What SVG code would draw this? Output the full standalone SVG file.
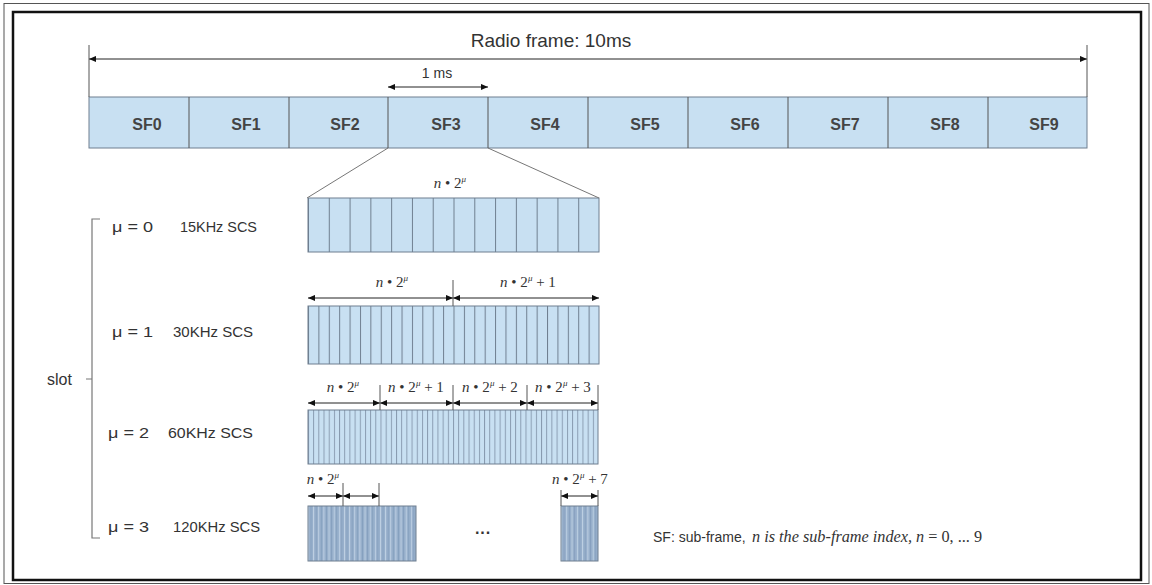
<svg xmlns="http://www.w3.org/2000/svg" width="1152" height="585" viewBox="0 0 1152 585">
<style>
.t{font-family:"Liberation Sans",Arial,sans-serif;fill:#333}
.sf{font-size:16px;font-weight:bold;text-anchor:middle;fill:#444}
.m{font-family:"Liberation Serif","DejaVu Serif",serif;font-size:15px;fill:#333;text-anchor:middle}
.lab{font-size:14px}
.dim{stroke:#222;stroke-width:1;fill:none}
.tick{stroke:#555;stroke-width:1}
.box{stroke:#6f7f90;stroke-width:1}
</style>
<defs>
<marker id="ah" viewBox="0 0 8 8" refX="8" refY="4" markerWidth="7" markerHeight="7" markerUnits="userSpaceOnUse" orient="auto-start-reverse">
<path d="M0,0.5 L8,4 L0,7.5 z" fill="#111"/>
</marker>
<pattern id="p0" x="308" y="0" width="20.786" height="20" patternUnits="userSpaceOnUse"><rect width="20.786" height="20" fill="#c8e0f2"/><line x1="0.5" y1="0" x2="0.5" y2="20" stroke="#6f7f90" stroke-width="1"/></pattern>
<pattern id="p1" x="308" y="0" width="10.393" height="20" patternUnits="userSpaceOnUse"><rect width="10.393" height="20" fill="#c8e0f2"/><line x1="0.5" y1="0" x2="0.5" y2="20" stroke="#6f7f90" stroke-width="1"/></pattern>
<pattern id="p2" x="308" y="0" width="5.179" height="20" patternUnits="userSpaceOnUse"><rect width="5.179" height="20" fill="#c8e0f2"/><line x1="0.5" y1="0" x2="0.5" y2="20" stroke="#8396ab" stroke-width="0.9"/></pattern>
<pattern id="p3" x="308" y="0" width="5.143" height="20" patternUnits="userSpaceOnUse"><rect width="5.143" height="20" fill="#97afcb"/><line x1="0.5" y1="0" x2="0.5" y2="20" stroke="#c3d4e6" stroke-width="0.9"/><line x1="3" y1="0" x2="3" y2="20" stroke="#7f99b9" stroke-width="0.7"/></pattern>
<pattern id="p3b" x="561" y="0" width="5.286" height="20" patternUnits="userSpaceOnUse"><rect width="5.286" height="20" fill="#97afcb"/><line x1="0.5" y1="0" x2="0.5" y2="20" stroke="#c3d4e6" stroke-width="0.9"/><line x1="3" y1="0" x2="3" y2="20" stroke="#7f99b9" stroke-width="0.7"/></pattern>
</defs>
<rect x="0" y="0" width="1152" height="585" fill="#fff"/>
<rect x="4" y="3.5" width="1145" height="580" fill="none" stroke="#555" stroke-width="1"/>
<rect x="13" y="12" width="1128" height="568" fill="none" stroke="#111" stroke-width="2.5"/>

<g id="radio-frame">
<text class="t" x="551" y="47" font-size="19" text-anchor="middle">Radio frame: 10ms</text>
<g id="subframes">
<rect x="89" y="97" width="998" height="51" fill="#c8e0f2" stroke="#6f7f90"/>
<path class="tick" d="M189,97V148M289,97V148M388,97V148M488,97V148M588,97V148M688,97V148M788,97V148M888,97V148M988,97V148" stroke="#6f7f90"/>
<text class="t sf" x="147" y="130">SF0</text>
<text class="t sf" x="246" y="130">SF1</text>
<text class="t sf" x="345" y="130">SF2</text>
<text class="t sf" x="446" y="130">SF3</text>
<text class="t sf" x="545" y="130">SF4</text>
<text class="t sf" x="645" y="130">SF5</text>
<text class="t sf" x="745" y="130">SF6</text>
<text class="t sf" x="845" y="130">SF7</text>
<text class="t sf" x="945" y="130">SF8</text>
<text class="t sf" x="1044" y="130">SF9</text>
</g>
<text class="t" x="437" y="78" font-size="14" text-anchor="middle">1 ms</text>
</g>

<g id="mu0">
<text class="t lab" x="112" y="232" textLength="41" lengthAdjust="spacingAndGlyphs">μ = 0</text>
<text class="t lab" x="180" y="232" textLength="77" lengthAdjust="spacingAndGlyphs">15KHz SCS</text>
<rect x="308" y="198" width="291" height="54" fill="url(#p0)" class="box"/>
<text class="m" x="450" y="188"><tspan font-style="italic">n</tspan> • 2<tspan dy="-6" font-size="9" font-style="italic">μ</tspan></text>
</g>

<g id="mu1">
<text class="t lab" x="112" y="337" textLength="41" lengthAdjust="spacingAndGlyphs">μ = 1</text>
<text class="t lab" x="173" y="337" textLength="80" lengthAdjust="spacingAndGlyphs">30KHz SCS</text>
<rect x="308" y="306" width="291" height="58" fill="url(#p1)" class="box"/>
<text class="m" x="392" y="287"><tspan font-style="italic">n</tspan> • 2<tspan dy="-6" font-size="9" font-style="italic">μ</tspan></text>
<text class="m" x="528" y="287"><tspan font-style="italic">n</tspan> • 2<tspan dy="-6" font-size="9" font-style="italic">μ</tspan><tspan dy="6"> + 1</tspan></text>
</g>

<g id="mu2">
<text class="t lab" x="108" y="438" textLength="41" lengthAdjust="spacingAndGlyphs">μ = 2</text>
<text class="t lab" x="168" y="438" textLength="85" lengthAdjust="spacingAndGlyphs">60KHz SCS</text>
<rect x="308" y="410" width="290" height="54" fill="url(#p2)" class="box"/>
<text class="m" x="343" y="392"><tspan font-style="italic">n</tspan> • 2<tspan dy="-6" font-size="9" font-style="italic">μ</tspan></text>
<text class="m" x="416" y="392"><tspan font-style="italic">n</tspan> • 2<tspan dy="-6" font-size="9" font-style="italic">μ</tspan><tspan dy="6"> + 1</tspan></text>
<text class="m" x="490" y="392"><tspan font-style="italic">n</tspan> • 2<tspan dy="-6" font-size="9" font-style="italic">μ</tspan><tspan dy="6"> + 2</tspan></text>
<text class="m" x="563" y="392"><tspan font-style="italic">n</tspan> • 2<tspan dy="-6" font-size="9" font-style="italic">μ</tspan><tspan dy="6"> + 3</tspan></text>
</g>

<g id="mu3">
<text class="t lab" x="108" y="532" textLength="41" lengthAdjust="spacingAndGlyphs">μ = 3</text>
<text class="t lab" x="173" y="532" textLength="87" lengthAdjust="spacingAndGlyphs">120KHz SCS</text>
<rect x="308" y="506" width="108" height="55" fill="url(#p3)" class="box"/>
<rect x="561" y="506" width="37" height="55" fill="url(#p3b)" class="box"/>
<text class="m" x="323" y="484"><tspan font-style="italic">n</tspan> • 2<tspan dy="-6" font-size="9" font-style="italic">μ</tspan></text>
<text class="m" x="580" y="484"><tspan font-style="italic">n</tspan> • 2<tspan dy="-6" font-size="9" font-style="italic">μ</tspan><tspan dy="6"> + 7</tspan></text>
<text class="t" x="483" y="538" font-size="16" font-weight="bold" text-anchor="middle">···</text>
</g>

<g id="slot">
<path d="M100,219H92V538H100M92,379H86" fill="none" stroke="#777" stroke-width="1.2"/>
<text class="t" x="47" y="385" font-size="16">slot</text>
</g>

<g id="legend">
<text class="t" x="653" y="542" font-size="14">SF: sub-frame,</text>
<text x="752" y="542" font-family="'Liberation Serif',serif" font-size="16" fill="#333" textLength="230" lengthAdjust="spacingAndGlyphs"><tspan font-style="italic">n is the sub-frame index, n</tspan> = 0, ... 9</text>
</g>

<g id="connectors">
<line class="dim" x1="89" y1="59" x2="1087" y2="59" marker-start="url(#ah)" marker-end="url(#ah)"/>
<path class="tick" d="M89,45V97M1087,45V97" stroke="#555"/>
<line class="dim" x1="388" y1="87" x2="488" y2="87" marker-start="url(#ah)" marker-end="url(#ah)"/>
<path d="M388,148L307,198M488,148L599,198" stroke="#777" fill="none"/>
<line class="dim" x1="308" y1="298" x2="453" y2="298" marker-start="url(#ah)" marker-end="url(#ah)"/>
<line class="dim" x1="453" y1="298" x2="599" y2="298" marker-start="url(#ah)" marker-end="url(#ah)"/>
<path class="tick" d="M453,280V306"/>
<line class="dim" x1="308" y1="403" x2="380" y2="403" marker-start="url(#ah)" marker-end="url(#ah)"/>
<line class="dim" x1="380" y1="403" x2="453" y2="403" marker-start="url(#ah)" marker-end="url(#ah)"/>
<line class="dim" x1="453" y1="403" x2="527" y2="403" marker-start="url(#ah)" marker-end="url(#ah)"/>
<line class="dim" x1="527" y1="403" x2="598" y2="403" marker-start="url(#ah)" marker-end="url(#ah)"/>
<path class="tick" d="M380,385V410M453,385V410M527,385V410M598,385V410"/>
<line class="dim" x1="308" y1="496" x2="343" y2="496" marker-start="url(#ah)" marker-end="url(#ah)"/>
<line class="dim" x1="343" y1="496" x2="379" y2="496" marker-start="url(#ah)" marker-end="url(#ah)"/>
<path class="tick" d="M343,483V506M379,483V506"/>
<line class="dim" x1="561" y1="496" x2="598" y2="496" marker-start="url(#ah)" marker-end="url(#ah)"/>
<path class="tick" d="M561,490V506M598,490V506"/>
</g>
</svg>
